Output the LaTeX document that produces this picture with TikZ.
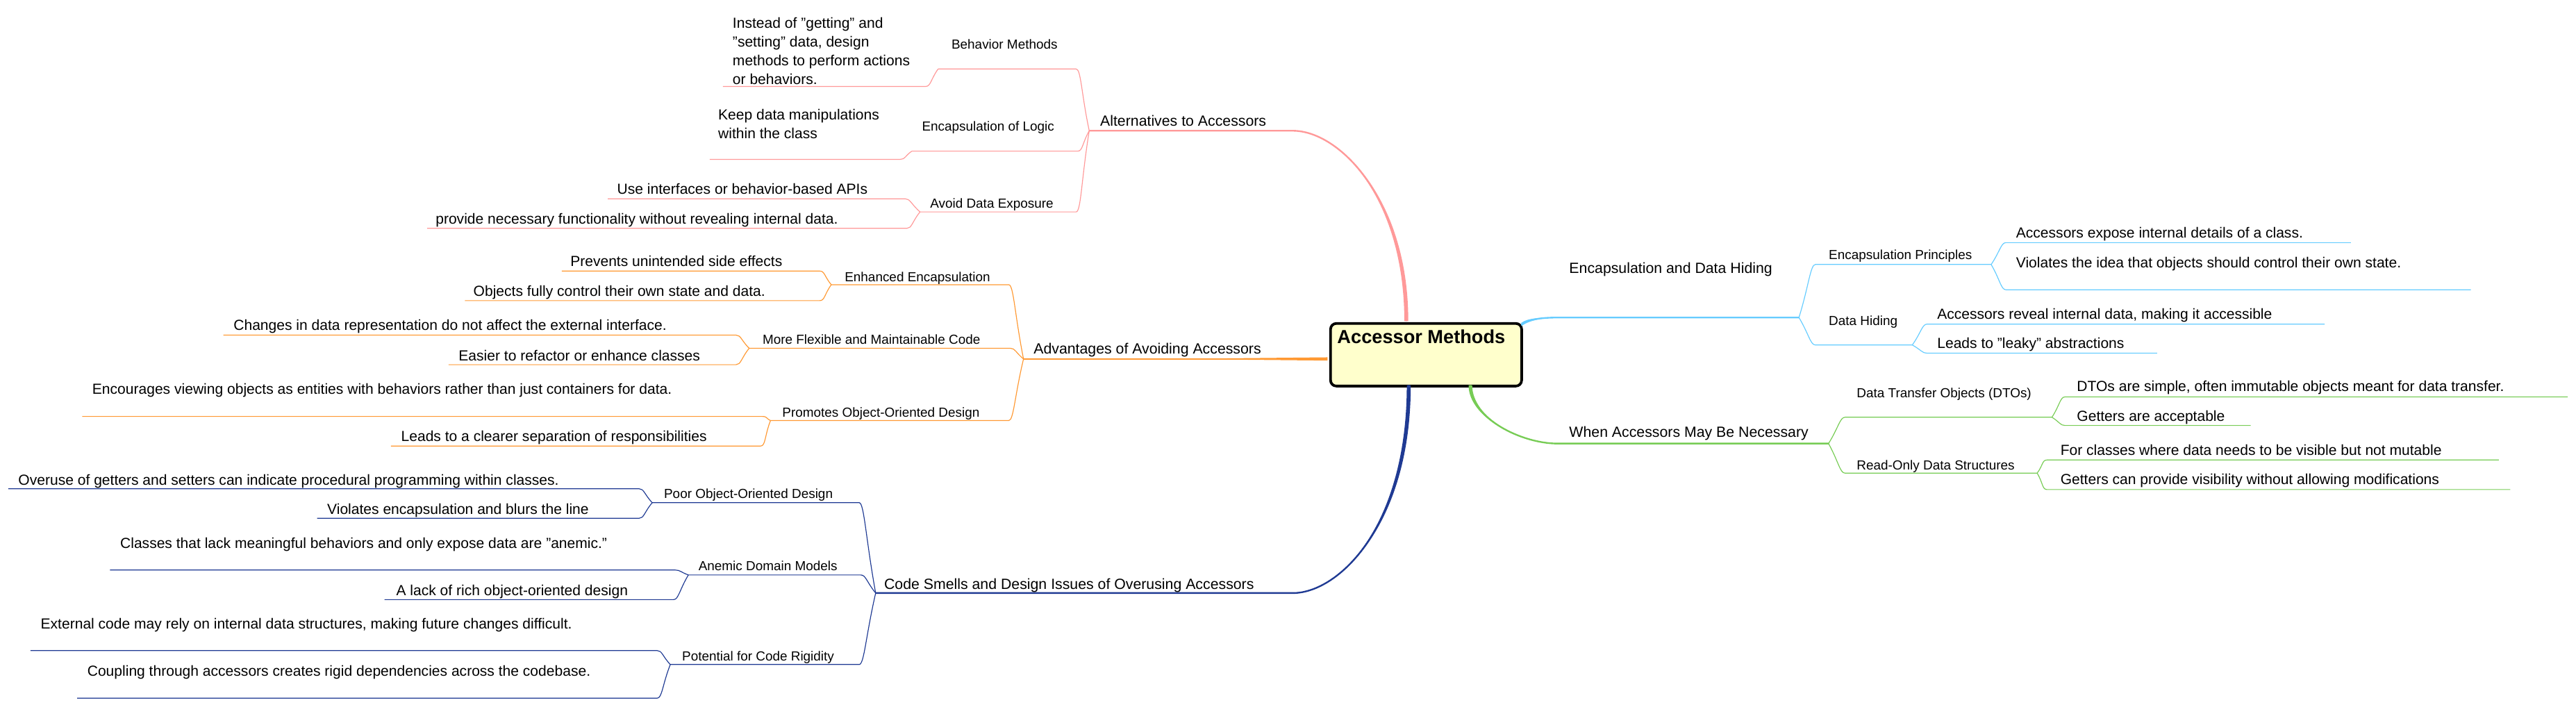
\documentclass[tikz,border=0pt]{standalone}
\usepackage{fontspec}
\setmainfont{Liberation Sans}
\usetikzlibrary{calc}
\definecolor{cpink}{HTML}{FF9999}
\definecolor{corange}{HTML}{FF9933}
\definecolor{cnavy}{HTML}{1F3A93}
\definecolor{csky}{HTML}{66CCFF}
\definecolor{cgreen}{HTML}{77CC55}
\definecolor{cbox}{HTML}{FFFFCC}
\newcommand\Lb[6]{\coordinate (#3a) at (#4,#6);\coordinate (#3b) at (#5,#6);
  \draw[#1] (#2) .. controls ($(#2)!0.6!(#3a)$) and ($(#3a)+(3,0)$) .. (#3a) -- (#3b);}
\newcommand\Rb[6]{\coordinate (#3a) at (#4,#6);\coordinate (#3b) at (#5,#6);
  \draw[#1] (#2) .. controls ($(#2)!0.6!(#3a)$) and ($(#3a)+(-3,0)$) .. (#3a) -- (#3b);}
\begin{document}
\begin{tikzpicture}[x=1pt,y=-1pt,
  mainlbl/.style={font=\fontsize{9}{11}\selectfont, inner sep=0pt, anchor=base west},
  sublbl/.style={font=\fontsize{8}{10}\selectfont, inner sep=0pt, anchor=base west},
  leaflbl/.style={font=\fontsize{8.9}{11.4}\selectfont, inner sep=0pt, anchor=base west, align=left},
  thin/.style={line width=0.5pt},
  pinkln/.style={thin, draw=cpink},
  orln/.style={thin, draw=corange},
  nvln/.style={thin, draw=cnavy},
  skln/.style={thin, draw=csky},
  grln/.style={thin, draw=cgreen},
  mainln/.style={line width=1pt}]
\useasboundingbox (0,0) rectangle (1568,430);

% ---------- central node
\node[draw, line width=1.6pt, fill=cbox, rounded corners=3.5pt,
      minimum width=116.3pt, minimum height=38.1pt, inner sep=0pt, anchor=north west]
      (root) at (809.1,196.1) {};
\node[font=\bfseries\fontsize{11.5}{13}\selectfont, inner sep=0pt, anchor=base west]
      (title) at (813.8,209.2) {Accessor Methods};

% ---------- main branch coordinates
\coordinate (pt) at (856,195.5);  \coordinate (p1) at (787,79.6);  \coordinate (pj) at (663,79.6);
\coordinate (ot) at (808,218.5);  \coordinate (oj) at (623,218.5);
\coordinate (nt) at (857.5,234.5);\coordinate (n1) at (787,361);   \coordinate (nj) at (533,361);
\coordinate (st) at (926,197.5);  \coordinate (s1) at (948,193.3); \coordinate (sj) at (1095,193.3);
\coordinate (gt) at (895,234.5);  \coordinate (g1) at (948,270);   \coordinate (gj) at (1113,270);

% pink
\fill[cpink] ($(pt)+(-1.2,0)$) .. controls +(0,-75) and +(28,0) .. (p1)
   .. controls +(28,0) and +(0,-75) .. ($(pt)+(1.2,0)$) -- cycle;
\draw[mainln, cpink] (pt) .. controls +(0,-75) and +(28,0) .. (p1) -- (pj);
% orange
\fill[corange] ($(ot)+(0,-1)$) -- ($(oj)+(90,0)$) -- ($(ot)+(0,1)$) -- cycle;
\draw[mainln, corange] (ot) -- (oj);
% navy
\fill[cnavy] ($(nt)+(-1.2,0)$) .. controls +(0,85) and +(28,0) .. (n1)
   .. controls +(28,0) and +(0,85) .. ($(nt)+(1.2,0)$) -- cycle;
\draw[mainln, cnavy] (nt) .. controls +(0,85) and +(28,0) .. (n1) -- (nj);
% sky
\fill[csky] ($(st)+(0,-1)$) .. controls +(4,-3) and +(-10,0) .. (s1)
   .. controls +(-10,0) and +(4,-3) .. ($(st)+(0,1)$) -- cycle;
\draw[mainln, csky] (st) .. controls +(4,-3) and +(-10,0) .. (s1) -- (sj);
% green
\fill[cgreen] ($(gt)+(-1.1,0)$) .. controls +(0,20) and +(-22,0) .. (g1)
   .. controls +(-22,0) and +(0,20) .. ($(gt)+(1.1,0)$) -- cycle;
\draw[mainln, cgreen] (gt) .. controls +(0,20) and +(-22,0) .. (g1) -- (gj);

% ---------- pink sub-branches
\Lb{pinkln}{pj}{pa}{655}{571}{42}
\Lb{pinkln}{pj}{pb}{656}{555}{92}
\Lb{pinkln}{pj}{pc}{655}{560}{129}
\Lb{pinkln}{pab}{pa1}{563.5}{440}{52.6}
\Lb{pinkln}{pbb}{pb1}{548}{432}{97}
\Lb{pinkln}{pcb}{pc1}{551}{370}{121}
\Lb{pinkln}{pcb}{pc2}{552}{260}{139}
% orange
\Lb{orln}{oj}{oa}{614}{506}{173.3}
\Lb{orln}{oj}{ob}{615}{456}{212}
\Lb{orln}{oj}{oc}{614}{469}{256}
\Lb{orln}{oab}{oa1}{499}{342}{165}
\Lb{orln}{oab}{oa2}{499}{283}{183}
\Lb{orln}{obb}{ob1}{448}{136}{204}
\Lb{orln}{obb}{ob2}{448}{273}{222}
\Lb{orln}{ocb}{oc1}{464}{50}{253.5}
\Lb{orln}{ocb}{oc2}{463}{238}{271.5}
% navy
\Lb{nvln}{nj}{na}{523}{397}{306}
\Lb{nvln}{nj}{nb}{524}{419}{350}
\Lb{nvln}{nj}{nc}{523}{408}{404.5}
\Lb{nvln}{nab}{na1}{389}{5}{297.5}
\Lb{nvln}{nab}{na2}{389}{193}{315.5}
\Lb{nvln}{nbb}{nb1}{411}{67}{347}
\Lb{nvln}{nbb}{nb2}{410}{234}{365}
\Lb{nvln}{ncb}{nc1}{400}{18.5}{396}
\Lb{nvln}{ncb}{nc2}{400}{47}{425}
% sky
\Rb{skln}{sj}{sa}{1105}{1212}{161}
\Rb{skln}{sj}{sb}{1105}{1164}{210}
\Rb{skln}{sab}{sa1}{1221}{1431}{147.7}
\Rb{skln}{sab}{sa2}{1221}{1504}{176.4}
\Rb{skln}{sbb}{sb1}{1173}{1415}{197.3}
\Rb{skln}{sbb}{sb2}{1173}{1313}{215}
% green
\Rb{grln}{gj}{ga}{1123}{1249}{254}
\Rb{grln}{gj}{gb}{1123}{1240}{288}
\Rb{grln}{gab}{ga1}{1257}{1563}{241.6}
\Rb{grln}{gab}{ga2}{1257}{1370}{259}
\Rb{grln}{gbb}{gb1}{1246}{1521}{280}
\Rb{grln}{gbb}{gb2}{1246}{1528}{298}

% ---------- labels: pink
\node[mainlbl] (Lp) at (669.5,76.9) {Alternatives to Accessors};
\node[sublbl] (Lpa) at (579,29.7) {Behavior Methods};
\node[sublbl] (Lpb) at (561,79.9) {Encapsulation of Logic};
\node[sublbl] (Lpc) at (566,126.6) {Avoid Data Exposure};
\node[leaflbl] (Lpa1) at (445.8,51.5) {Instead of "getting" and\\"setting" data, design\\methods to perform actions\\or behaviors.};
\node[leaflbl] (Lpb1) at (437,84.2) {Keep data manipulations\\within the class};
\node[leaflbl] (Lpc1) at (375.5,118.2) {Use interfaces or behavior-based APIs};
\node[leaflbl] (Lpc2) at (265,136.4) {provide necessary functionality without revealing internal data.};
% orange
\node[mainlbl] (Lo) at (629,215.2) {Advantages of Avoiding Accessors};
\node[sublbl] (Loa) at (514,171.3) {Enhanced Encapsulation};
\node[sublbl] (Lob) at (464,209.6) {More Flexible and Maintainable Code};
\node[sublbl] (Loc) at (476,253.7) {Promotes Object-Oriented Design};
\node[leaflbl] (Loa1) at (347,162.2) {Prevents unintended side effects};
\node[leaflbl] (Loa2) at (288,180.5) {Objects fully control their own state and data.};
\node[leaflbl] (Lob1) at (142,201.2) {Changes in data representation do not affect the external interface.};
\node[leaflbl] (Lob2) at (279,219.5) {Easier to refactor or enhance classes};
\node[leaflbl] (Loc1) at (56,239.9) {Encourages viewing objects as entities with behaviors rather than just containers for data.};
\node[leaflbl] (Loc2) at (244,268.6) {Leads to a clearer separation of responsibilities};
% navy
\node[mainlbl] (Ln) at (538,358.7) {Code Smells and Design Issues of Overusing Accessors};
\node[sublbl] (Lna) at (404,303.5) {Poor Object-Oriented Design};
\node[sublbl] (Lnb) at (425,347.1) {Anemic Domain Models};
\node[sublbl] (Lnc) at (415,402.1) {Potential for Code Rigidity};
\node[leaflbl] (Lna1) at (11,295.3) {Overuse of getters and setters can indicate procedural programming within classes.};
\node[leaflbl] (Lna2) at (199,312.9) {Violates encapsulation and blurs the line};
\node[leaflbl] (Lnb1) at (73,333.7) {Classes that lack meaningful behaviors and only expose data are "anemic."};
\node[leaflbl] (Lnb2) at (241,362.5) {A lack of rich object-oriented design};
\node[leaflbl] (Lnc1) at (24.6,383) {External code may rely on internal data structures, making future changes difficult.};
\node[leaflbl] (Lnc2) at (53,411.6) {Coupling through accessors creates rigid dependencies across the codebase.};
% sky
\node[mainlbl] (Ls) at (955,166.2) {Encapsulation and Data Hiding};
\node[sublbl] (Lsa) at (1113,157.9) {Encapsulation Principles};
\node[sublbl] (Lsb) at (1113,197.9) {Data Hiding};
\node[leaflbl] (Lsa1) at (1227,144.8) {Accessors expose internal details of a class.};
\node[leaflbl] (Lsa2) at (1227,162.8) {Violates the idea that objects should control their own state.};
\node[leaflbl] (Lsb1) at (1179,194.2) {Accessors reveal internal data, making it accessible};
\node[leaflbl] (Lsb2) at (1179,212.2) {Leads to "leaky" abstractions};
% green
\node[mainlbl] (Lg) at (955,266.2) {When Accessors May Be Necessary};
\node[sublbl] (Lga) at (1130,241.9) {Data Transfer Objects (DTOs)};
\node[sublbl] (Lgb) at (1130,285.9) {Read-Only Data Structures};
\node[leaflbl] (Lga1) at (1264,238.2) {DTOs are simple, often immutable objects meant for data transfer.};
\node[leaflbl] (Lga2) at (1264,256.2) {Getters are acceptable};
\node[leaflbl] (Lgb1) at (1254,277.2) {For classes where data needs to be visible but not mutable};
\node[leaflbl] (Lgb2) at (1254,294.9) {Getters can provide visibility without allowing modifications};
\end{tikzpicture}
\end{document}
